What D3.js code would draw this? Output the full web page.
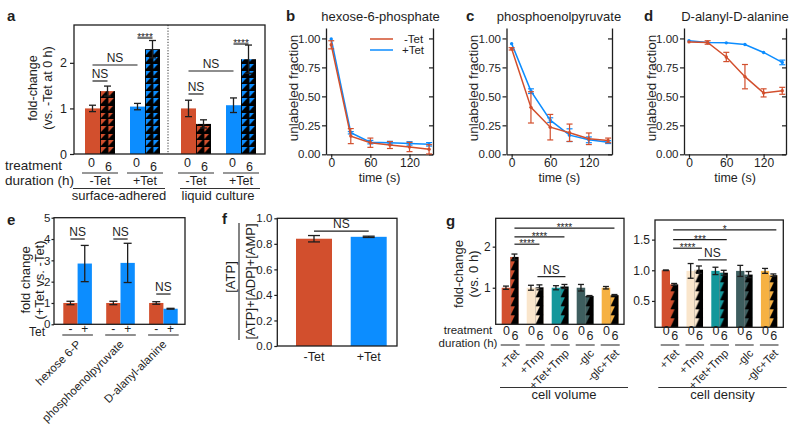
<!DOCTYPE html>
<html><head><meta charset="utf-8">
<script src="https://cdn.jsdelivr.net/npm/d3@7/dist/d3.min.js"></script>
<style>body{margin:0;background:#fff}svg{display:block;font-family:"Liberation Sans",Arial,Helvetica,sans-serif}</style>
</head><body><svg width="800" height="428"></svg>
<script>
// ================= DATA =================
// panel a
const aGroups = ["surface-adhered", "liquid culture"];
const aConds = ["-Tet", "+Tet"];
const aDurations = ["0", "6"];
const aValues = [1.00, 1.38, 1.04, 2.30, 1.00, 0.66, 1.07, 2.08];
const aErrors = [0.07, 0.11, 0.07, 0.19, 0.18, 0.09, 0.16, 0.31];
const aTicks = [0, 1, 2];
// panels b-d
const timePoints = [0, 30, 60, 90, 120, 150];
const timeTicks = [0, 60, 120];
const fracTicks = [0, 0.25, 0.5, 0.75, 1.0];
const h6pMinus = [0.945, 0.157, 0.100, 0.080, 0.063, 0.043];
const h6pMinusErr = [0.035, 0.065, 0.040, 0.030, 0.040, 0.040];
const h6pPlus = [0.995, 0.186, 0.105, 0.100, 0.094, 0.086];
const h6pPlusErr = [0.005, 0.010, 0.015, 0.012, 0.015, 0.015];
const pepMinus = [0.91, 0.405, 0.234, 0.186, 0.134, 0.120];
const pepMinusErr = [0.01, 0.135, 0.110, 0.075, 0.050, 0.020];
const pepPlus = [0.955, 0.545, 0.295, 0.165, 0.125, 0.105];
const pepPlusErr = [0.005, 0.020, 0.020, 0.055, 0.025, 0.012];
const dalaMinus = [0.97, 0.965, 0.84, 0.67, 0.53, 0.548];
const dalaMinusErr = [0.005, 0.015, 0.04, 0.105, 0.035, 0.03];
const dalaPlus = [0.98, 0.965, 0.962, 0.948, 0.879, 0.793];
const dalaPlusErr = [0.003, 0.004, 0.004, 0.004, 0.005, 0.02];
// panel e
const eCategories = ["hexose 6-P", "phosphoenolpyruvate", "D-alanyl-alanine"];
const eMinus = [1.0, 1.0, 1.0];
const eMinusErr = [0.08, 0.08, 0.06];
const ePlus = [2.85, 2.88, 0.73];
const ePlusErr = [0.85, 0.92, 0.02];
const eTicks = [0, 1, 2, 3, 4, 5];
// panel f
const fCategories = ["-Tet", "+Tet"];
const fValues = [0.84, 0.855];
const fErrors = [0.025, 0.005];
const fTicks = [0, 0.2, 0.4, 0.6, 0.8, 1.0];
// panel g
const gTreatments = ["+Tet", "+Tmp", "+Tet+Tmp", "-glc", "-glc+Tet"];
const volume0 = [1.0, 1.0, 1.0, 1.0, 1.0];
const volume0Err = [0.04, 0.06, 0.05, 0.08, 0.03];
const volume6 = [1.75, 1.01, 1.03, 0.80, 0.82];
const volume6Err = [0.07, 0.06, 0.05, 0.01, 0.015];
const volTicks = [1, 2];
const density0 = [1.0, 0.99, 0.99, 0.99, 0.99];
const density0Err = [0.005, 0.12, 0.06, 0.09, 0.04];
const density6 = [0.77, 1.01, 0.96, 0.93, 0.92];
const density6Err = [0.015, 0.06, 0.04, 0.05, 0.02];
const denTicks = [0.5, 1.0, 1.5];

// ================= STYLE =================
const INK = "#1e1e1e";
const RED = "#D24F2D", BLUE = "#0C8DFF", BEIGE = "#FAE6CC", TEAL = "#14979B", SLATE = "#3E5E5F", ORANGE = "#F6B142";
const gColors = [RED, BEIGE, TEAL, SLATE, ORANGE];

const svg = d3.select("svg");
svg.append("rect").attr("width", 800).attr("height", 428).attr("fill", "#fff");
const defs = svg.append("defs");

function T(x, y, s, o = {}) {
  const t = svg.append("text").attr("x", x).attr("y", y).text(s)
    .attr("font-size", o.size || 12).attr("text-anchor", o.anchor || "middle").attr("fill", INK);
  if (o.bold) t.attr("font-weight", "bold");
  if (o.rot != null) t.attr("transform", `rotate(${o.rot},${x},${y})`);
  if (o.base) t.attr("dominant-baseline", o.base);
  return t;
}
function L(x1, y1, x2, y2, w = 1.2, c = INK, dash = null) {
  const l = svg.append("line").attr("x1", x1).attr("y1", y1).attr("x2", x2).attr("y2", y2)
    .attr("stroke", c).attr("stroke-width", w);
  if (dash) l.attr("stroke-dasharray", dash);
  return l;
}
function frame(l, t, r, b) {
  svg.append("rect").attr("x", l).attr("y", t).attr("width", r - l).attr("height", b - t)
    .attr("fill", "none").attr("stroke", INK).attr("stroke-width", 1.3);
}
function styleAxis(g, size) {
  g.selectAll(".domain").attr("stroke", INK).attr("stroke-width", 1.3);
  g.selectAll(".tick line").attr("stroke", INK).attr("stroke-width", 1.2);
  g.selectAll("text").attr("fill", INK).attr("font-size", size).attr("font-family", null);
  g.attr("font-family", null);
}
function errBar(x, yTop, yBot, half, c = INK, w = 1.3) {
  L(x, yTop, x, yBot, w, c);
  L(x - half, yTop, x + half, yTop, w, c);
  L(x - half, yBot, x + half, yBot, w, c);
}
function sig(x1, x2, y, label, kind) {
  L(x1, y, x2, y, 1.2);
  if (kind === "star") T((x1 + x2) / 2, y + 3, label, { size: 10 });
  else T((x1 + x2) / 2, y - 3, label, { size: 12 });
}
let pid = 0;
function triPattern(color, x, y, w, h) {
  const id = "pt" + (pid++);
  const p = defs.append("pattern").attr("id", id).attr("patternUnits", "userSpaceOnUse")
    .attr("width", w).attr("height", h).attr("patternTransform", `translate(${x},${y})`);
  p.append("rect").attr("width", w).attr("height", h).attr("fill", "#000");
  p.append("path").attr("d", `M0.9,0 L${w - 1.1},0 L0.9,${h - 1.1} Z`).attr("fill", color);
  return `url(#${id})`;
}
function sawPattern(color, x, y, w, h) {
  const id = "ps" + (pid++);
  const p = defs.append("pattern").attr("id", id).attr("patternUnits", "userSpaceOnUse")
    .attr("width", w).attr("height", h).attr("patternTransform", `translate(${x},${y})`);
  p.append("rect").attr("width", w).attr("height", h).attr("fill", color);
  const m = w * 0.55;
  p.append("path").attr("d", `M${m},0 L${w},0 L${w},${h} L${w * 0.05},${h} Z`).attr("fill", "#000");
  return `url(#${id})`;
}

// ================= PANEL A =================
{
  const left = 74, right = 265, top = 25, bottom = 154;
  const y = d3.scaleLinear().domain([0, 2.83]).range([bottom, top]);
  const slot = d3.scaleLinear().domain([0, 1]).range([85, 100]);
  const bw = slot(1) - slot(0);
  const slotOf = i => { const pair = Math.floor(i / 2); return pair * 3 + (i % 2) + (pair >= 2 ? 0.4 : 0); };
  const cx = i => slot(slotOf(i)) + bw / 2;
  aValues.forEach((v, i) => {
    const x = slot(slotOf(i));
    const col = (Math.floor(i / 2) % 2 === 0) ? RED : BLUE;
    const fill = i % 2 === 1 ? triPattern(col, x, bottom, bw / 2, 7) : col;
    svg.append("rect").attr("x", x).attr("y", y(v)).attr("width", bw).attr("height", bottom - y(v)).attr("fill", fill);
    errBar(cx(i), y(v + aErrors[i]), y(v - aErrors[i]), 3.5);
  });
  L(168, top, 168, bottom, 1, "#333", "1.2,1.6");
  frame(left, top, right, bottom);
  const ax = svg.append("g").attr("transform", `translate(${left},0)`)
    .call(d3.axisLeft(y).tickValues(aTicks).tickFormat(d3.format("d")).tickSize(4).tickSizeOuter(0));
  styleAxis(ax, 12.5);
  ax.select(".domain").remove();
  T(33, 88, "fold-change", { size: 12.5, rot: -90, base: "central" });
  T(47.5, 88, "(vs. -Tet at 0 h)", { size: 12.5, rot: -90, base: "central" });
  T(7, 21, "a", { size: 15, bold: true, anchor: "start" });
  sig(cx(0), cx(1), 81, "NS");
  sig(cx(0), cx(2), 65, "NS");
  sig(cx(2), cx(3), 38, "****", "star");
  sig(cx(4), cx(5), 94, "NS");
  sig(cx(4), cx(6), 71, "NS");
  sig(cx(6), cx(7), 44, "****", "star");
  aValues.forEach((v, i) => {
    const d = aDurations[i % 2];
    T(cx(i) + (i % 2 ? 1 : -1), i % 2 ? 171 : 167, d, { size: 12.5 });
  });
  for (let p = 0; p < 4; p++) {
    const x0 = slot(slotOf(2 * p)), x1 = x0 + 2 * bw;
    L(x0 - 3, 173, x1 + 3, 173, 1.1, "#333");
    T((x0 + x1) / 2, 185, aConds[p % 2], { size: 12.5 });
  }
  T(5, 170, "treatment", { size: 13.5, anchor: "start" });
  T(5, 184.5, "duration (h)", { size: 13.5, anchor: "start" });
  L(73, 188.5, 165, 188.5, 1.1, "#333");
  L(180, 188.5, 260, 188.5, 1.1, "#333");
  T(119, 200, aGroups[0], { size: 13 });
  T(218, 200, aGroups[1], { size: 13 });
}

// ================= PANELS B-D =================
function linePanel(o) {
  const { left, right, letter, lx, title, tx, series } = o;
  const top = 28, bottom = 154.3;
  const x = d3.scaleLinear().domain([-8, 156]).range([left, right]);
  const y = d3.scaleLinear().domain([0, 1.09]).range([bottom, top]);
  const gl = svg.append("g").attr("transform", `translate(${left},0)`)
    .call(d3.axisLeft(y).tickValues(fracTicks).tickFormat(d3.format(".2f")).tickSize(4).tickPadding(1.5).tickSizeOuter(0));
  styleAxis(gl, 11.5);
  const gr = svg.append("g").attr("transform", `translate(${right},0)`)
    .call(d3.axisLeft(y).tickValues(fracTicks).tickFormat("").tickSize(4).tickSizeOuter(0));
  styleAxis(gr, 12);
  const gb = svg.append("g").attr("transform", `translate(0,${bottom})`)
    .call(d3.axisBottom(x).tickValues(timeTicks).tickFormat(d3.format("d")).tickSize(3.5).tickPadding(1).tickSizeOuter(0));
  styleAxis(gb, 12);
  series.forEach(s => {
    const line = d3.line().x((d, i) => x(timePoints[i])).y(d => y(d));
    svg.append("path").attr("d", line(s.v)).attr("fill", "none").attr("stroke", s.c).attr("stroke-width", 1.5);
    s.v.forEach((v, i) => {
      if (s.e[i] > 0.008) errBar(x(timePoints[i]), y(v + s.e[i]), y(v - s.e[i]), 3, s.c, 1.2);
      svg.append("circle").attr("cx", x(timePoints[i])).attr("cy", y(v)).attr("r", 1.7).attr("fill", s.c);
    });
  });
  T(lx, 21, letter, { size: 15, bold: true, anchor: "start" });
  T(tx, 21, title, { size: 13 });
  T((left + right) / 2, 182, "time (s)", { size: 12.5 });
  T(left - 33, 88, "unlabeled fraction", { size: 13.5, rot: -90, base: "central" });
}
linePanel({ left: 326, right: 433, letter: "b", lx: 286, title: "hexose-6-phosphate", tx: 380.5,
  series: [{ v: h6pPlus, e: h6pPlusErr, c: BLUE }, { v: h6pMinus, e: h6pMinusErr, c: RED }] });
linePanel({ left: 506.5, right: 612, letter: "c", lx: 466, title: "phosphoenolpyruvate", tx: 559,
  series: [{ v: pepPlus, e: pepPlusErr, c: BLUE }, { v: pepMinus, e: pepMinusErr, c: RED }] });
linePanel({ left: 684, right: 786, letter: "d", lx: 644, title: "D-alanyl-D-alanine", tx: 735,
  series: [{ v: dalaPlus, e: dalaPlusErr, c: BLUE }, { v: dalaMinus, e: dalaMinusErr, c: RED }] });
// legend in b
L(370, 39, 393, 39, 1.5, RED);
L(370, 50, 393, 50, 1.5, BLUE);
T(404, 42.5, "-Tet", { size: 11.5, anchor: "start" });
T(402, 54, "+Tet", { size: 11.5, anchor: "start" });

// ================= PANEL E =================
{
  const left = 54, right = 185, top = 217.7, bottom = 324.3;
  const y = d3.scaleLinear().domain([0, 5]).range([bottom, top]);
  const slot = d3.scaleLinear().domain([0, 1]).range([63.3, 77.6]);
  const bw = slot(1) - slot(0);
  eCategories.forEach((c, k) => {
    [[eMinus, eMinusErr, RED, "-"], [ePlus, ePlusErr, BLUE, "+"]].forEach(([vals, errs, col, sym], j) => {
      const x = slot(k * 3 + j), v = vals[k];
      svg.append("rect").attr("x", x).attr("y", y(v)).attr("width", bw).attr("height", bottom - y(v)).attr("fill", col);
      errBar(x + bw / 2, y(v + errs[k]), y(v - errs[k]), 4);
      T(x + bw / 2, 332.5, sym, { size: 12 });
    });
    const x0 = slot(k * 3), x1 = slot(k * 3 + 2);
    L(x0 - 1, 335, x1 + 1, 335, 1.1, "#333");
    svg.append("text").attr("transform", `translate(${(x0 + x1) / 2 + 4},${345}) rotate(-45)`)
      .attr("text-anchor", "end").attr("font-size", 11.5).attr("fill", INK).text(c);
  });
  frame(left, top, right, bottom);
  const ax = svg.append("g").attr("transform", `translate(${left},0)`)
    .call(d3.axisLeft(y).tickValues(eTicks).tickFormat(d3.format("d")).tickSize(2.5).tickPadding(1).tickSizeOuter(0));
  styleAxis(ax, 11.5);
  ax.select(".domain").remove();
  const c = k => slot(k * 3) + bw / 2, c2 = k => slot(k * 3 + 1) + bw / 2;
  sig(c(0), c2(0), y(4.0), "NS");
  sig(c(1), c2(1), y(4.0), "NS");
  sig(c(2), c2(2), y(1.42), "NS");
  T(45, 336, "Tet", { size: 12, anchor: "end" });
  T(7, 225, "e", { size: 15, bold: true, anchor: "start" });
  T(25.5, 280, "fold change", { size: 13, rot: -90, base: "central" });
  T(39.5, 280, "(+Tet vs. -Tet)", { size: 13, rot: -90, base: "central" });
}

// ================= PANEL F =================
{
  const left = 277.3, right = 397, top = 218.3, bottom = 346;
  const y = d3.scaleLinear().domain([0, 1]).range([bottom, top]);
  const x = d3.scaleBand().domain(fCategories).range([296, 386.7]).paddingInner(0.342).paddingOuter(0);
  fCategories.forEach((c, i) => {
    const v = fValues[i];
    svg.append("rect").attr("x", x(c)).attr("y", y(v)).attr("width", x.bandwidth()).attr("height", bottom - y(v))
      .attr("fill", i === 0 ? RED : BLUE);
    errBar(x(c) + x.bandwidth() / 2, y(v + fErrors[i]), y(v - fErrors[i]), 6);
  });
  frame(left, top, right, bottom);
  const ax = svg.append("g").attr("transform", `translate(${left},0)`)
    .call(d3.axisLeft(y).tickValues(fTicks).tickFormat(d3.format(".1f")).tickSize(3).tickPadding(2).tickSizeOuter(0));
  styleAxis(ax, 11.5);
  ax.select(".domain").remove();
  const bx = svg.append("g").attr("transform", `translate(0,${bottom})`)
    .call(d3.axisBottom(x).tickSize(0).tickPadding(6));
  styleAxis(bx, 12.5);
  bx.select(".domain").remove();
  sig(x("-Tet") + x.bandwidth() / 2, x("+Tet") + x.bandwidth() / 2, y(0.9), "NS");
  T(222, 224, "f", { size: 15, bold: true, anchor: "start" });
  T(230, 277, "[ATP]", { size: 13, rot: -90, base: "central" });
  L(239, 223, 239, 340, 1.1);
  T(250.5, 281.5, "[ATP]+[ADP]+[AMP]", { size: 13, rot: -90, base: "central" });
}

// ================= PANEL G =================
function gPanel(o) {
  const { left, right, top, bottom, domain, ticks, fmt, p0, pitch, bw, v0, e0, v6, e6, label, lineX0, lineX1 } = o;
  const y = d3.scaleLinear().domain(domain).range([bottom, top]);
  const px = d3.scaleLinear().domain([0, 1]).range([p0, p0 + pitch]);
  const cx = (k, j) => px(k) + j * bw + bw / 2;
  gTreatments.forEach((t, k) => {
    const x0 = px(k);
    svg.append("rect").attr("x", x0).attr("y", y(v0[k])).attr("width", bw).attr("height", bottom - y(v0[k])).attr("fill", gColors[k]);
    svg.append("rect").attr("x", x0 + bw).attr("y", y(v6[k])).attr("width", bw).attr("height", bottom - y(v6[k]))
      .attr("fill", sawPattern(gColors[k], x0 + bw, bottom, bw, 9));
    errBar(cx(k, 0), y(v0[k] + e0[k]), y(v0[k] - e0[k]), 3);
    errBar(cx(k, 1), y(v6[k] + e6[k]), y(v6[k] - e6[k]), 3);
    T(cx(k, 0) + 0.5, 335, "0", { size: 12.5 });
    T(cx(k, 1) + 0.5, 340, "6", { size: 12.5 });
    L(x0 - 1, 345, x0 + 2 * bw + 1, 345, 1.1, "#333");
    svg.append("text").attr("transform", `translate(${x0 + bw + 4},${348.5}) rotate(-45)`)
      .attr("text-anchor", "end").attr("font-size", 11.3).attr("fill", INK).attr("dy", "0.7em").text(t);
  });
  frame(left, top, right, bottom);
  const ax = svg.append("g").attr("transform", `translate(${left},0)`)
    .call(d3.axisLeft(y).tickValues(ticks).tickFormat(d3.format(fmt)).tickSize(3).tickPadding(2).tickSizeOuter(0));
  styleAxis(ax, 12);
  ax.select(".domain").remove();
  L(lineX0, 387.5, lineX1, 387.5, 1.1, "#333");
  T((lineX0 + lineX1) / 2, 399, label, { size: 13 });
  return { y, cx };
}
{
  const g1 = gPanel({ left: 495.7, right: 624, top: 218.3, bottom: 324.3, domain: [0.11, 2.69], ticks: volTicks, fmt: "d",
    p0: 501.7, pitch: 25, bw: 8.5, v0: volume0, e0: volume0Err, v6: volume6, e6: volume6Err,
    label: "cell volume", lineX0: 500, lineX1: 628 });
  sig(g1.cx(0, 1), g1.cx(1, 1), g1.y(2.06), "****", "star");
  sig(g1.cx(0, 1), g1.cx(2, 1), g1.y(2.24), "****", "star");
  sig(g1.cx(0, 1), g1.cx(4, 1), g1.y(2.45), "****", "star");
  sig(g1.cx(1, 1) - 2, g1.cx(2, 1) + 1, g1.y(1.27), "NS");
  const g2 = gPanel({ left: 655, right: 783.3, top: 220, bottom: 327.3, domain: [0.07, 1.82], ticks: denTicks, fmt: ".1f",
    p0: 661.7, pitch: 24.8, bw: 8.3, v0: density0, e0: density0Err, v6: density6, e6: density6Err,
    label: "cell density", lineX0: 658.3, lineX1: 786.7 });
  sig(g2.cx(0, 1) - 1, g2.cx(4, 1) + 3, g2.y(1.66), "*", "star");
  sig(g2.cx(0, 1) - 1, g2.cx(2, 1) + 3, g2.y(1.5), "***", "star");
  sig(g2.cx(0, 1) - 1, g2.cx(1, 1) + 3, g2.y(1.36), "****", "star");
  sig(g2.cx(1, 1) - 1, g2.cx(2, 1) + 3, g2.y(1.17), "NS");
  T(446, 226, "g", { size: 15, bold: true, anchor: "start" });
  T(458.5, 274, "fold-change", { size: 13, rot: -90, base: "central" });
  T(473.5, 274, "(vs. 0 h)", { size: 13, rot: -90, base: "central" });
  T(468, 334, "treatment", { size: 11.5 });
  T(468, 346.5, "duration (h)", { size: 11.5 });
}
</script></body></html>
